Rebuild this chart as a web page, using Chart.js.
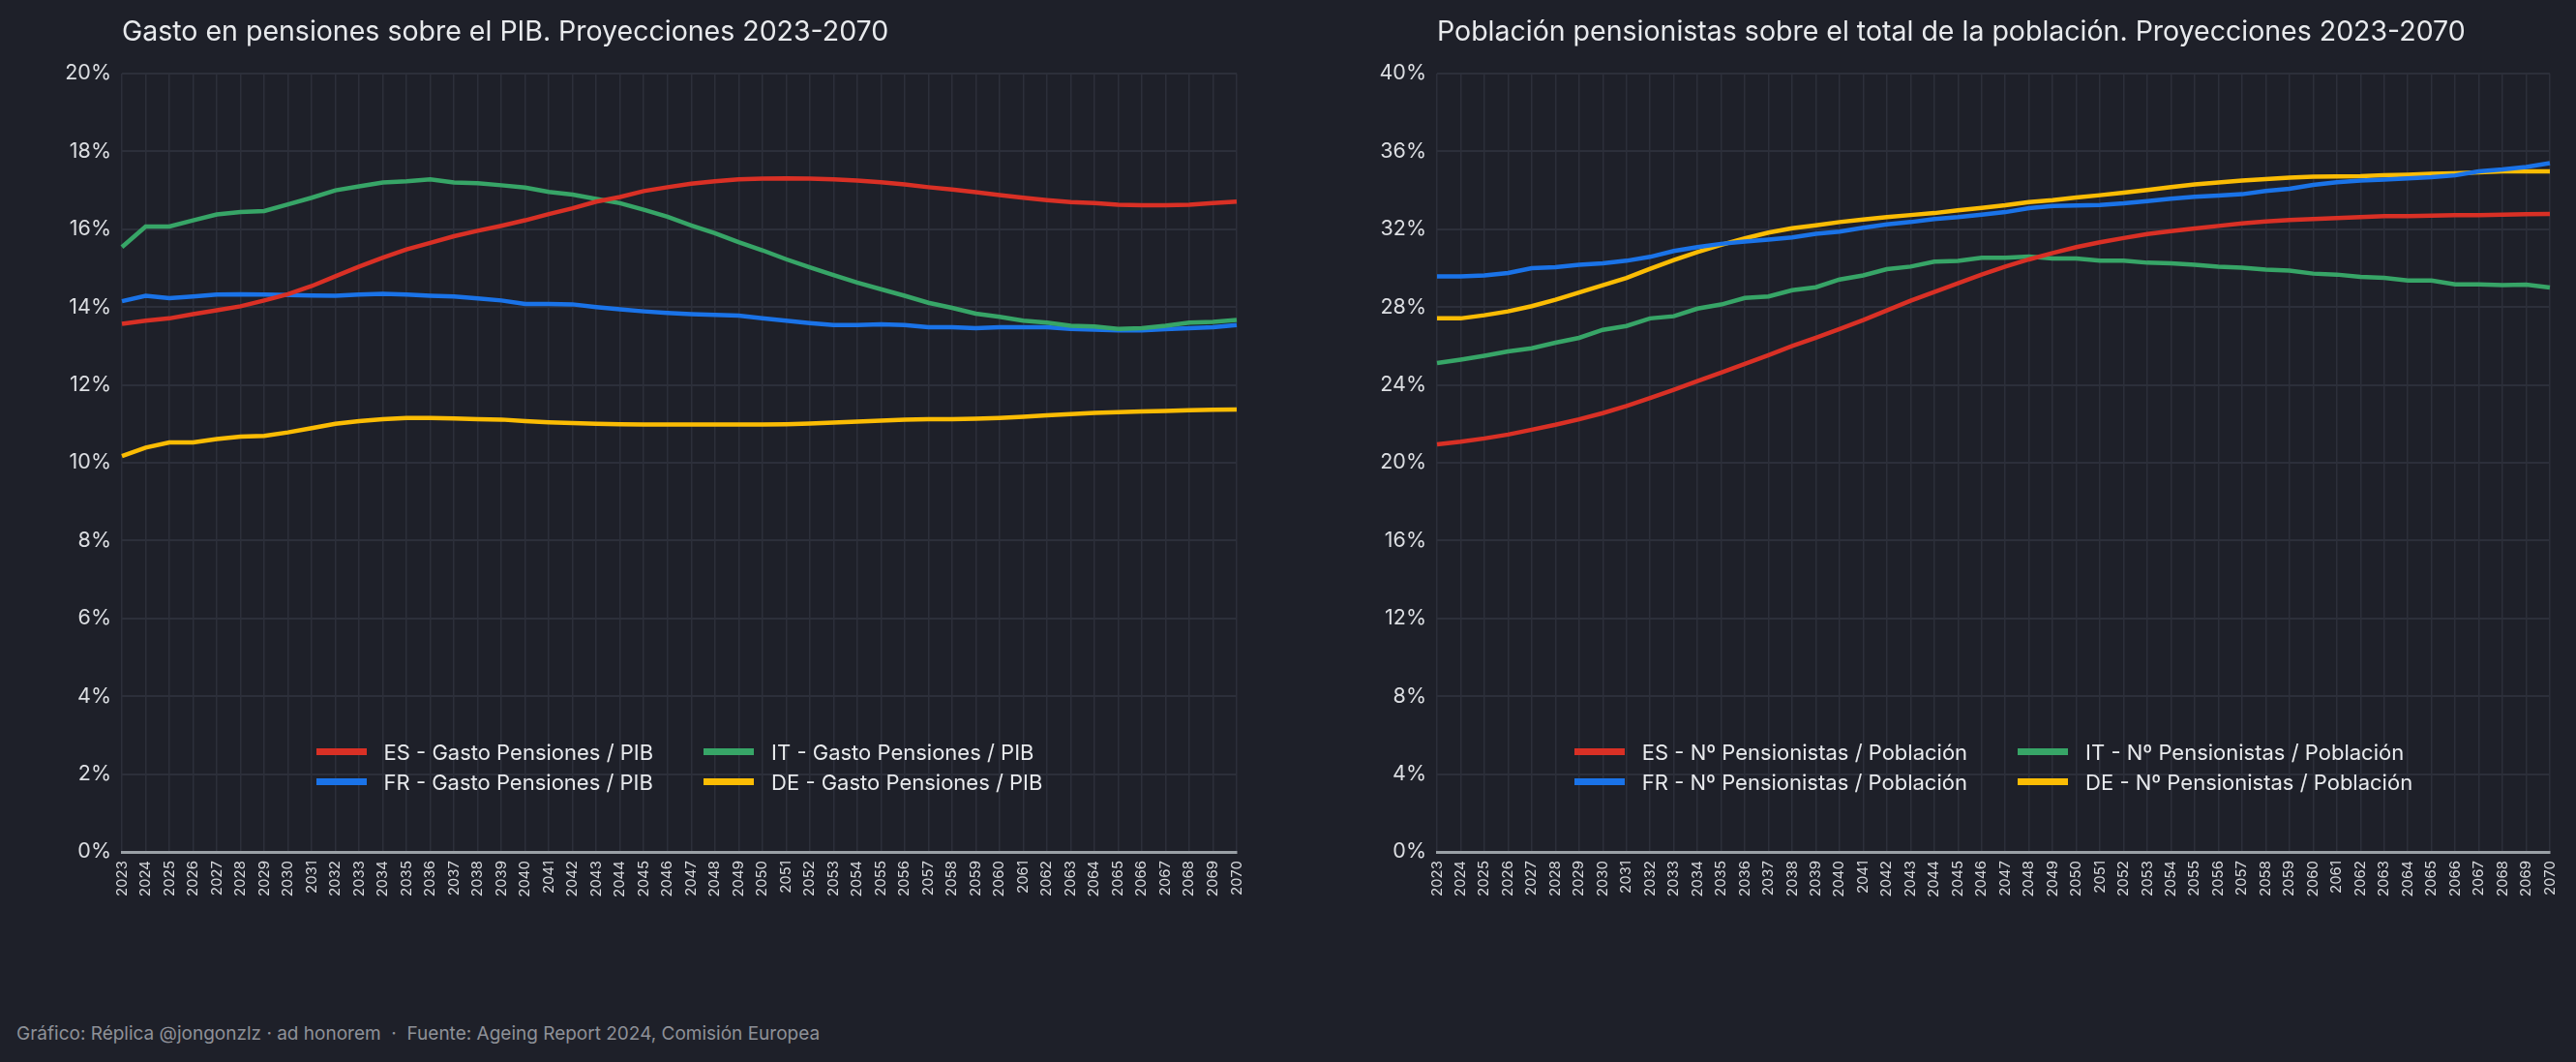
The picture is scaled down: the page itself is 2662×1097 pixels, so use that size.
<!DOCTYPE html>
<html lang="es">
<head>
<meta charset="utf-8">
<title>Pensiones: proyecciones 2023-2070</title>
<script src="https://cdn.jsdelivr.net/npm/chart.js@4.4.1/dist/chart.umd.min.js"></script>
<style>
  html, body { margin: 0; padding: 0; background: #1e2029; }
  body { width: 2662px; height: 1097px; position: relative; overflow: hidden; font-family: Inter, "Liberation Sans", Arial, sans-serif; }
  .panel { position: absolute; top: 0; width: 1331px; height: 960px; }
  .panel canvas { position: absolute; left: 0; top: 0; }
  .title { position: absolute; top: 15px; color: #e8eaed; font-size: 28.5px; line-height: 34px; white-space: nowrap; }
  .legend { position: absolute; display: grid; grid-template-columns: auto auto; column-gap: 52px; justify-content: center; }
  .legend .item { display: flex; align-items: center; height: 31px; color: #e8eaed; font-size: 22px; white-space: nowrap; }
  .legend .swatch { width: 52px; height: 7px; margin-right: 18px; }
  .footer { position: absolute; left: 17px; top: 1055px; color: #8e9198; font-size: 19px; line-height: 26px; white-space: nowrap; }
</style>
</head>
<body>

<div class="panel" id="panel-gasto" style="left:0">
  <canvas id="chart-gasto" width="1331" height="960"></canvas>
</div>
<div class="panel" id="panel-poblacion" style="left:1331px">
  <canvas id="chart-poblacion" width="1331" height="960"></canvas>
</div>

<div class="title" style="left:126px">Gasto en pensiones sobre el PIB. Proyecciones 2023-2070</div>
<div class="title" style="left:1485px">Población pensionistas sobre el total de la población. Proyecciones 2023-2070</div>

<div class="footer">Gráfico: Réplica @jongonzlz · ad honorem &nbsp;·&nbsp; Fuente: Ageing Report 2024, Comisión Europea</div>

<script>
const years = [
  '2023','2024','2025','2026','2027','2028','2029','2030','2031','2032','2033','2034',
  '2035','2036','2037','2038','2039','2040','2041','2042','2043','2044','2045','2046',
  '2047','2048','2049','2050','2051','2052','2053','2054','2055','2056','2057','2058',
  '2059','2060','2061','2062','2063','2064','2065','2066','2067','2068','2069','2070'
];

// Gasto en pensiones / PIB (%)
const gastoES = [
  13.57, 13.65, 13.71, 13.82, 13.92, 14.02, 14.17, 14.33, 14.54, 14.79, 15.04, 15.27,
  15.48, 15.65, 15.82, 15.96, 16.09, 16.23, 16.39, 16.54, 16.71, 16.83, 16.98, 17.08,
  17.17, 17.23, 17.28, 17.30, 17.31, 17.30, 17.28, 17.25, 17.21, 17.15, 17.08, 17.02,
  16.95, 16.88, 16.81, 16.75, 16.70, 16.67, 16.63, 16.62, 16.62, 16.63, 16.67, 16.71
];
const gastoIT = [
  15.54, 16.07, 16.07, 16.23, 16.38, 16.44, 16.47, 16.64, 16.81, 17.00, 17.10, 17.20,
  17.23, 17.28, 17.20, 17.18, 17.13, 17.07, 16.96, 16.89, 16.78, 16.67, 16.50, 16.32,
  16.10, 15.90, 15.67, 15.46, 15.23, 15.02, 14.82, 14.63, 14.46, 14.29, 14.11, 13.98,
  13.83, 13.75, 13.65, 13.60, 13.52, 13.50, 13.44, 13.46, 13.52, 13.60, 13.62, 13.67
];
const gastoFR = [
  14.15, 14.29, 14.23, 14.27, 14.32, 14.33, 14.32, 14.31, 14.30, 14.29, 14.32, 14.34,
  14.32, 14.29, 14.27, 14.22, 14.17, 14.08, 14.08, 14.07, 14.00, 13.94, 13.89, 13.85,
  13.82, 13.80, 13.78, 13.71, 13.65, 13.59, 13.54, 13.54, 13.56, 13.54, 13.48, 13.48,
  13.46, 13.48, 13.48, 13.48, 13.44, 13.42, 13.40, 13.40, 13.43, 13.46, 13.48, 13.54
];
const gastoDE = [
  10.17, 10.39, 10.52, 10.52, 10.61, 10.67, 10.69, 10.78, 10.89, 11.00, 11.07, 11.12,
  11.15, 11.15, 11.14, 11.12, 11.11, 11.07, 11.04, 11.02, 11.00, 10.99, 10.98, 10.98,
  10.98, 10.98, 10.98, 10.98, 10.99, 11.01, 11.03, 11.06, 11.08, 11.11, 11.12, 11.12,
  11.13, 11.15, 11.18, 11.22, 11.25, 11.28, 11.30, 11.32, 11.33, 11.35, 11.36, 11.37
];

// Nº pensionistas / población (%)
const pobES = [
  20.95, 21.08, 21.25, 21.45, 21.70, 21.95, 22.23, 22.55, 22.92, 23.33, 23.75, 24.20,
  24.63, 25.08, 25.53, 26.00, 26.42, 26.87, 27.33, 27.83, 28.33, 28.78, 29.22, 29.67,
  30.08, 30.45, 30.78, 31.08, 31.33, 31.55, 31.75, 31.90, 32.04, 32.17, 32.30, 32.40,
  32.47, 32.53, 32.58, 32.63, 32.67, 32.68, 32.70, 32.72, 32.73, 32.75, 32.77, 32.78
];
const pobIT = [
  25.12, 25.30, 25.50, 25.72, 25.88, 26.17, 26.42, 26.83, 27.03, 27.42, 27.53, 27.92,
  28.13, 28.47, 28.55, 28.87, 29.02, 29.42, 29.63, 29.95, 30.08, 30.33, 30.37, 30.53,
  30.53, 30.60, 30.50, 30.50, 30.38, 30.38, 30.28, 30.25, 30.17, 30.08, 30.03, 29.92,
  29.87, 29.72, 29.67, 29.55, 29.50, 29.37, 29.37, 29.17, 29.17, 29.13, 29.15, 29.00
];
const pobFR = [
  29.58, 29.58, 29.63, 29.75, 30.00, 30.05, 30.17, 30.25, 30.38, 30.58, 30.88, 31.08,
  31.25, 31.37, 31.47, 31.58, 31.77, 31.88, 32.08, 32.25, 32.37, 32.53, 32.62, 32.75,
  32.88, 33.08, 33.20, 33.22, 33.25, 33.33, 33.45, 33.57, 33.67, 33.73, 33.80, 33.97,
  34.08, 34.28, 34.42, 34.50, 34.55, 34.62, 34.68, 34.77, 34.97, 35.07, 35.20, 35.40
];
const pobDE = [
  27.42, 27.42, 27.58, 27.78, 28.05, 28.38, 28.75, 29.12, 29.50, 29.97, 30.42, 30.83,
  31.20, 31.53, 31.83, 32.05, 32.20, 32.37, 32.50, 32.62, 32.73, 32.83, 32.97, 33.10,
  33.23, 33.40, 33.50, 33.63, 33.75, 33.88, 34.02, 34.17, 34.30, 34.40, 34.50, 34.58,
  34.65, 34.70, 34.72, 34.73, 34.77, 34.80, 34.85, 34.88, 34.93, 34.97, 34.98, 34.98
];

const colors = { ES: '#d93025', IT: '#37a567', FR: '#1a73e8', DE: '#fbbc04' };
const gridColor = '#2c2f3a';
const fontFamily = 'Inter, "Liberation Sans", Arial, sans-serif';

function line(label, data, color) {
  return {
    label: label,
    data: data,
    borderColor: color,
    backgroundColor: color,
    borderWidth: 4.5,
    pointRadius: 0,
    pointHoverRadius: 0,
    tension: 0,
    fill: false
  };
}

function makeChart(canvasId, datasets, yMax, yStep, padLeft, padRight) {
  const ctx = document.getElementById(canvasId).getContext('2d');
  return new Chart(ctx, {
    type: 'line',
    data: { labels: years, datasets: datasets },
    options: {
      responsive: false,
      animation: false,
      layout: { padding: { left: padLeft, right: padRight, top: 76, bottom: 0 } },
      plugins: {
        legend: { display: false },
        title: { display: false },
        tooltip: { enabled: false }
      },
      scales: {
        x: {
          offset: false,
          grid: { color: gridColor, lineWidth: 1.5, drawTicks: false },
          border: { color: '#9aa0a6', width: 3 },
          ticks: {
            color: '#d6d8dc',
            font: { family: fontFamily, size: 15 },
            maxRotation: 90,
            minRotation: 90,
            autoSkip: false,
            padding: 9
          },
          afterFit: (scale) => { scale.height = 80; }
        },
        y: {
          min: 0,
          max: yMax,
          grid: { color: gridColor, lineWidth: 2, drawTicks: false },
          border: { display: false },
          ticks: {
            stepSize: yStep,
            color: '#dcdee2',
            font: { family: fontFamily, size: 21.5 },
            padding: 11,
            callback: (v) => v + '%'
          },
          afterFit: (scale) => { scale.width = 60; }
        }
      }
    }
  });
}

function htmlLegend(chart, panelId) {
  const area = chart.chartArea;
  const box = document.createElement('div');
  box.className = 'legend';
  box.style.left = area.left + 'px';
  box.style.width = (area.right - area.left) + 'px';
  box.style.top = '761px';
  chart.data.datasets.forEach(ds => {
    const item = document.createElement('div');
    item.className = 'item';
    const sw = document.createElement('span');
    sw.className = 'swatch';
    sw.style.background = ds.borderColor;
    item.appendChild(sw);
    item.appendChild(document.createTextNode(ds.label));
    box.appendChild(item);
  });
  document.getElementById(panelId).appendChild(box);
}

const gastoChart = makeChart('chart-gasto', [
  line('ES - Gasto Pensiones / PIB', gastoES, colors.ES),
  line('IT - Gasto Pensiones / PIB', gastoIT, colors.IT),
  line('FR - Gasto Pensiones / PIB', gastoFR, colors.FR),
  line('DE - Gasto Pensiones / PIB', gastoDE, colors.DE)
], 20, 2, 66, 53);

const pobChart = makeChart('chart-poblacion', [
  line('ES - Nº Pensionistas / Población', pobES, colors.ES),
  line('IT - Nº Pensionistas / Población', pobIT, colors.IT),
  line('FR - Nº Pensionistas / Población', pobFR, colors.FR),
  line('DE - Nº Pensionistas / Población', pobDE, colors.DE)
], 40, 4, 94, 26);

htmlLegend(gastoChart, 'panel-gasto');
htmlLegend(pobChart, 'panel-poblacion');
</script>
</body>
</html>
